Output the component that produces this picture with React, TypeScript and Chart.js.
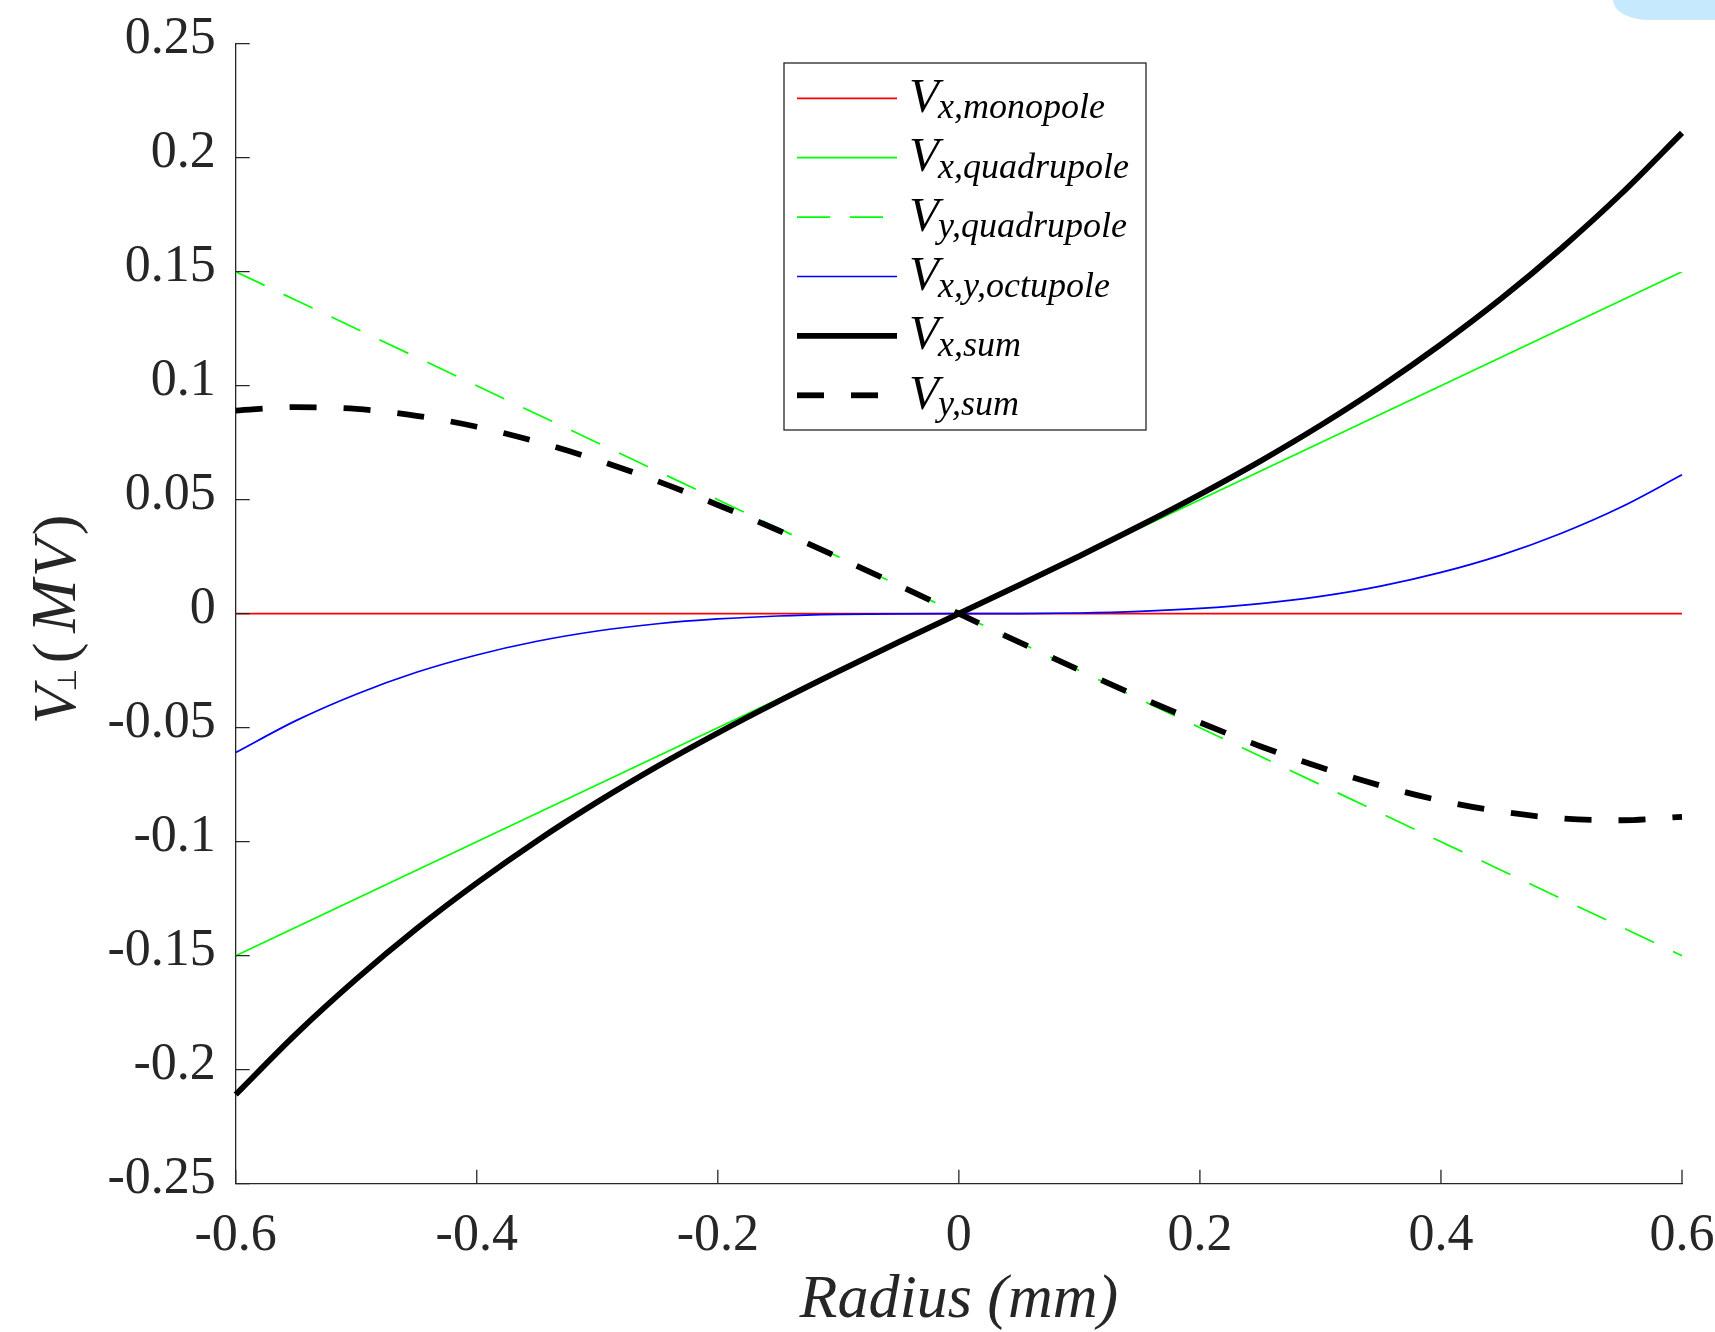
import React, { useEffect, useRef } from "react";
import { Chart, registerables } from "chart.js";

Chart.register(...registerables);

// ---- data ----
const radius = [
  -0.6, -0.55, -0.5, -0.45, -0.4, -0.35, -0.3, -0.25, -0.2, -0.15, -0.1, -0.05, 0,
  0.05, 0.1, 0.15, 0.2, 0.25, 0.3, 0.35, 0.4, 0.45, 0.5, 0.55, 0.6,
];
const vxMonopole = [
  0, 0, 0, 0, 0, 0, 0, 0, 0, 0, 0, 0, 0, 0, 0, 0, 0, 0, 0, 0, 0, 0, 0, 0, 0,
];
const vxQuadrupole = [
  -0.15, -0.1375, -0.125, -0.1125, -0.1, -0.0875, -0.075, -0.0625, -0.05, -0.0375, -0.025, -0.0125, 0,
  0.0125, 0.025, 0.0375, 0.05, 0.0625, 0.075, 0.0875, 0.1, 0.1125, 0.125, 0.1375, 0.15,
];
const vyQuadrupole = [
  0.15, 0.1375, 0.125, 0.1125, 0.1, 0.0875, 0.075, 0.0625, 0.05, 0.0375, 0.025, 0.0125, 0,
  -0.0125, -0.025, -0.0375, -0.05, -0.0625, -0.075, -0.0875, -0.1, -0.1125, -0.125, -0.1375, -0.15,
];
const vxyOctupole = [
  -0.0609, -0.0469, -0.0353, -0.0257, -0.0181, -0.0121, -0.0076, -0.0044, -0.0023, -0.001, -0.0003, -0.00004, 0,
  0.00004, 0.0003, 0.001, 0.0023, 0.0044, 0.0076, 0.0121, 0.0181, 0.0257, 0.0353, 0.0469, 0.0609,
];
const vxSum = [
  -0.2109, -0.1844, -0.1603, -0.1382, -0.1181, -0.0996, -0.0826, -0.0669, -0.0523, -0.0385, -0.0253, -0.0125, 0,
  0.0125, 0.0253, 0.0385, 0.0523, 0.0669, 0.0826, 0.0996, 0.1181, 0.1382, 0.1603, 0.1844, 0.2109,
];
const vySum = [
  0.0891, 0.0906, 0.0898, 0.0868, 0.082, 0.0754, 0.0674, 0.0581, 0.0477, 0.0366, 0.0247, 0.0125, 0,
  -0.0125, -0.0247, -0.0366, -0.0477, -0.0581, -0.0674, -0.0754, -0.082, -0.0868, -0.0898, -0.0906, -0.0891,
];

const legendMain = ["V", "V", "V", "V", "V", "V"];
const legendSub = ["x,monopole", "x,quadrupole", "y,quadrupole", "x,y,octupole", "x,sum", "y,sum"];

const xTickValues = [-0.6, -0.4, -0.2, 0, 0.2, 0.4, 0.6];
const xTickLabels = ["-0.6", "-0.4", "-0.2", "0", "0.2", "0.4", "0.6"];
const yTickValues = [-0.25, -0.2, -0.15, -0.1, -0.05, 0, 0.05, 0.1, 0.15, 0.2, 0.25];
const yTickLabels = ["-0.25", "-0.2", "-0.15", "-0.1", "-0.05", "0", "0.05", "0.1", "0.15", "0.2", "0.25"];

const xTitle = "Radius (mm)";
// y title pieces: V, ⊥ (subscript), (, M, V, )
const yTitleGlyphs = ["V", "\u22A5", "(", "M", "V", ")"];

// ---- styles / layout ----
const W = 1715;
const H = 1332;
const SERIF = "'Liberation Serif', 'Times New Roman', serif";
const AXIS_COLOR = "#262626";
const PLOT_LEFT = 235.7;
const PLOT_RIGHT = 1682;
const PLOT_TOP = 43.7;
const PLOT_BOTTOM = 1183.7;

const seriesStyles = [
  { color: "#ff0000", width: 1.7, dash: [] as number[] },
  { color: "#00ff00", width: 1.7, dash: [] as number[] },
  { color: "#00ff00", width: 1.7, dash: [32, 21] },
  { color: "#0000ff", width: 1.7, dash: [] as number[] },
  { color: "#000000", width: 5.8, dash: [] as number[] },
  { color: "#000000", width: 5.8, dash: [27, 27] },
];
const seriesValues = [vxMonopole, vxQuadrupole, vyQuadrupole, vxyOctupole, vxSum, vySum];

// y-title glyph styles: font, centre offset along text, baseline shift
const yTitleStyle = [
  { font: `italic 62px ${SERIF}`, c: 18, dy: 0 },
  { font: `26px 'DejaVu Sans', sans-serif`, c: 43, dy: 1 },
  { font: `62px ${SERIF}`, c: 70, dy: 0 },
  { font: `italic 64px ${SERIF}`, c: 117, dy: 0 },
  { font: `italic 62px ${SERIF}`, c: 165, dy: 0 },
  { font: `62px ${SERIF}`, c: 198, dy: 0 },
];

const zeroPadding = (s: any) => {
  s.paddingTop = 0;
  s.paddingBottom = 0;
  s.paddingLeft = 0;
  s.paddingRight = 0;
};

const overlayPlugin = {
  id: "overlay",
  afterDraw(chart: any) {
    const ctx: CanvasRenderingContext2D = chart.ctx;
    const { left, bottom } = chart.chartArea;
    const xs = chart.scales.x;
    const ys = chart.scales.y;
    ctx.save();

    // inward tick marks
    ctx.strokeStyle = AXIS_COLOR;
    ctx.lineWidth = 1.3;
    ctx.setLineDash([]);
    ctx.beginPath();
    xTickValues.forEach((v) => {
      const p = xs.getPixelForValue(v);
      ctx.moveTo(p, bottom);
      ctx.lineTo(p, bottom - 14);
    });
    yTickValues.forEach((v) => {
      const p = ys.getPixelForValue(v);
      ctx.moveTo(left, p);
      ctx.lineTo(left + 14, p);
    });
    ctx.stroke();

    // y axis title: V⊥(MV), rotated
    ctx.save();
    ctx.translate(75, 723);
    ctx.rotate(-Math.PI / 2);
    ctx.fillStyle = AXIS_COLOR;
    ctx.textBaseline = "alphabetic";
    ctx.textAlign = "center";
    yTitleGlyphs.forEach((g, i) => {
      ctx.font = yTitleStyle[i].font;
      ctx.fillText(g, yTitleStyle[i].c, yTitleStyle[i].dy);
    });
    ctx.restore();

    // legend
    const bx = 784, by = 63, bw = 362, bh = 367;
    ctx.fillStyle = "#ffffff";
    ctx.fillRect(bx, by, bw, bh);
    ctx.strokeStyle = AXIS_COLOR;
    ctx.lineWidth = 1.3;
    ctx.strokeRect(bx, by, bw, bh);
    seriesStyles.forEach((s, i) => {
      const y = 98.3 + i * 59.4;
      ctx.save();
      ctx.strokeStyle = s.color;
      ctx.lineWidth = s.width;
      ctx.setLineDash(i === 2 ? [33, 20] : s.dash);
      ctx.beginPath();
      ctx.moveTo(797, y);
      ctx.lineTo(897, y);
      ctx.stroke();
      ctx.restore();
      ctx.fillStyle = "#000000";
      ctx.textAlign = "left";
      ctx.textBaseline = "alphabetic";
      ctx.font = `italic 49px ${SERIF}`;
      ctx.fillText(legendMain[i], 909, y + 13.4);
      ctx.font = `italic 36px ${SERIF}`;
      ctx.fillText(legendSub[i], 938, y + 20);
    });

    ctx.restore();
  },
};

export default function App() {
  const canvasRef = useRef<HTMLCanvasElement | null>(null);

  useEffect(() => {
    if (!canvasRef.current) return;
    const datasets = seriesValues.map((vals, i) => ({
      label: legendMain[i] + "_" + legendSub[i],
      data: radius.map((r, j) => ({ x: r, y: vals[j] })),
      borderColor: seriesStyles[i].color,
      backgroundColor: seriesStyles[i].color,
      borderWidth: seriesStyles[i].width,
      borderDash: seriesStyles[i].dash,
      pointRadius: 0,
      fill: false,
      cubicInterpolationMode: "monotone" as const,
      order: 10 - i,
      clip: 8,
    }));

    const chart = new Chart(canvasRef.current, {
      type: "line",
      data: { datasets },
      plugins: [overlayPlugin],
      options: {
        animation: false,
        responsive: false,
        devicePixelRatio: 1,
        layout: { padding: { top: PLOT_TOP, right: W - PLOT_RIGHT, left: 0, bottom: 0 } },
        plugins: {
          legend: { display: false },
          tooltip: { enabled: false },
        },
        scales: {
          x: {
            type: "linear",
            min: -0.6,
            max: 0.6,
            afterBuildTicks: (s: any) => {
              s.ticks = xTickValues.map((v) => ({ value: v }));
            },
            afterFit: (s: any) => {
              s.height = H - PLOT_BOTTOM;
              zeroPadding(s);
            },
            ticks: {
              autoSkip: false,
              maxRotation: 0,
              padding: 21,
              color: AXIS_COLOR,
              font: { family: SERIF, size: 52 },
              callback: (_v: any, i: number) => xTickLabels[i],
            },
            grid: { display: false, drawTicks: false },
            border: { display: true, color: AXIS_COLOR, width: 1.3 },
            title: {
              display: true,
              text: xTitle,
              color: AXIS_COLOR,
              font: { family: SERIF, size: 62, style: "italic" },
              padding: { top: 0, bottom: -6 },
            },
          },
          y: {
            type: "linear",
            min: -0.25,
            max: 0.25,
            afterBuildTicks: (s: any) => {
              s.ticks = yTickValues.map((v) => ({ value: v }));
            },
            afterFit: (s: any) => {
              s.width = PLOT_LEFT;
              zeroPadding(s);
            },
            ticks: {
              autoSkip: false,
              padding: 20,
              labelOffset: -4,
              color: AXIS_COLOR,
              font: { family: SERIF, size: 52 },
              callback: (_v: any, i: number) => yTickLabels[i],
            },
            grid: { display: false, drawTicks: false },
            border: { display: true, color: AXIS_COLOR, width: 1.3 },
          },
        },
      },
    } as any);
    return () => chart.destroy();
  }, []);

  return (
    <div style={{ position: "absolute", left: 0, top: 0, width: W, height: H, background: "#ffffff", overflow: "hidden" }}>
      <canvas ref={canvasRef} width={W} height={H} style={{ display: "block" }} />
      <div
        style={{
          position: "absolute",
          left: 1613,
          top: 0,
          width: W - 1613,
          height: 20,
          background: "#c6e9fe",
          borderBottomLeftRadius: "36px 20px",
        }}
      />
    </div>
  );
}
